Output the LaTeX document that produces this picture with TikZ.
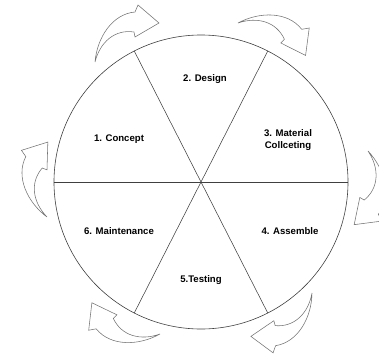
\documentclass[tikz,border=0pt]{standalone}
\usepackage{fontspec}
\newfontfamily\labelfont{Liberation Sans}
\usepackage{tikz}

\begin{document}
\begin{tikzpicture}[
    x=1pt, y=-1pt,
    font=\labelfont\bfseries\fontsize{9.6}{12}\selectfont,
    phase/.style={align=center, inner sep=1pt},
    rim/.style={draw=black!75, line width=0.6pt},
    spoke/.style={draw=black!75, line width=0.55pt},
    arrowline/.style={draw=black!55, line width=0.55pt, line join=miter},
    cyclearrow/.pic={
      \draw[arrowline] (0,0) .. controls (2,-24) and (17,-48) .. (40,-50)
        -- (43,-57) -- (64,-39) -- (40,-25) -- (39,-30)
        .. controls (20,-33) and (5,-20) .. cycle;
    },
  ]
    \clip (0,0) rectangle (379,356);

    \node[rim, circle, minimum size=294pt, inner sep=0pt] (wheel) at (201,182) {};
    \draw[spoke] (wheel.west) -- (wheel.east);
    \draw[spoke] (wheel.117) -- (wheel.297);
    \draw[spoke] (wheel.63) -- (wheel.243);

    \node[phase] (concept) at (119,139) {1. Concept};
    \node[phase] (design) at (205,79) {2. Design};
    \node[phase] (material) at (288,140) {3. Material\\Collceting};
    \node[phase] (assemble) at (290,231) {4. Assemble};
    \node[phase] (testing) at (201,280) {5.Testing};
    \node[phase] (maintenance) at (119,231) {6. Maintenance};

    % arrows round the wheel, clockwise
    \pic at (95,62) {cyclearrow};
    \pic[rotate=-57] at (238,23) {cyclearrow};
    \pic[rotate=-132] at (368,151) {cyclearrow};
    \pic[rotate=-176] at (312,293) {cyclearrow};
    \pic[rotate=-236] at (160,334) {cyclearrow};
    \pic[rotate=-302] at (47,217) {cyclearrow};
\end{tikzpicture}
\end{document}
